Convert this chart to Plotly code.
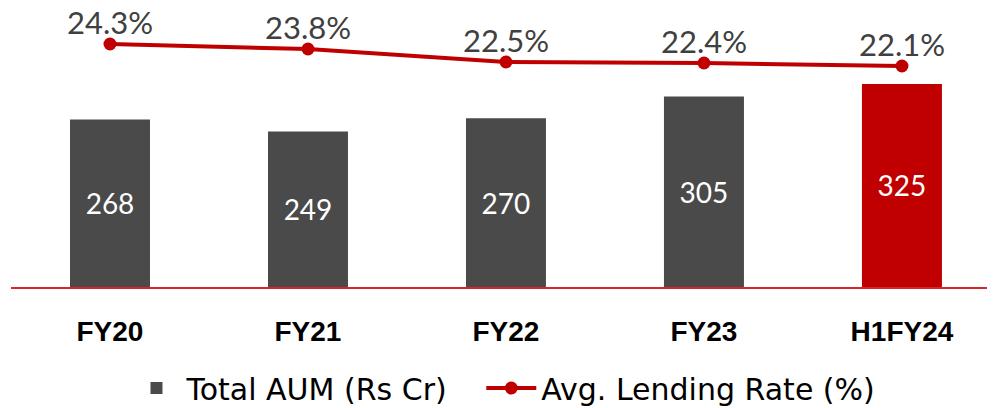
import plotly.graph_objects as go

categories = ["FY20", "FY21", "FY22", "FY23", "H1FY24"]
aum_values = [268, 249, 270, 305, 325]
lending_rate = [24.3, 23.8, 22.5, 22.4, 22.1]
lending_labels = ["24.3%", "23.8%", "22.5%", "22.4%", "22.1%"]
series_names = ["Total AUM (Rs Cr)", "Avg. Lending Rate (%)"]

GRAY = "#4A4A4A"
RED = "#C00000"
TXT = "#404040"
FONT = "Lato"
PAD = "\u00a0" * 3

bar_colors = [GRAY] * (len(categories) - 1) + [RED]

fig = go.Figure()
fig.add_trace(go.Bar(
    x=categories, y=aum_values, name=series_names[0] + PAD,
    marker=dict(color=bar_colors, line=dict(width=0)),
    width=0.404,
    text=[str(v) for v in aum_values], textposition="inside",
    insidetextanchor="middle",
    textfont=dict(family=FONT, size=28, color="#FFFFFF"),
    yaxis="y",
))
fig.add_trace(go.Scatter(
    x=categories, y=lending_rate, name=series_names[1],
    mode="lines+markers",
    line=dict(color=RED, width=4),
    marker=dict(color=RED, size=13),
    yaxis="y2", cliponaxis=False,
))

annotations = [
    dict(x=c, y=v, xref="x", yref="y2", text=t, showarrow=False,
         yshift=22, font=dict(family=FONT, size=31, color=TXT))
    for c, v, t in zip(categories, lending_rate, lending_labels)
]

fig.update_layout(
    width=987, height=400,
    margin=dict(l=3, r=0, t=2, b=121, autoexpand=False),
    paper_bgcolor="white", plot_bgcolor="white",
    showlegend=True,
    annotations=annotations,
    legend=dict(orientation="h", x=0.502, xanchor="center", xref="container",
                y=0.05, yanchor="middle", yref="container",
                font=dict(family="DejaVu Sans", size=30, color="#000000"),
                itemwidth=50, traceorder="normal"),
    xaxis=dict(range=[-0.5, 4.47], showgrid=False, zeroline=False,
               showline=True, linecolor="#D6262B", linewidth=2,
               ticks="", ticklabelstandoff=18,
               tickfont=dict(family="Liberation Sans", size=28, color="#000000", weight="bold")),
    yaxis=dict(range=[0, 443.2], visible=False, showgrid=False, zeroline=False),
    yaxis2=dict(range=[0, 27.7], overlaying="y", visible=False, showgrid=False, zeroline=False),
    font=dict(family=FONT),
)

fig.write_html("out.html")
